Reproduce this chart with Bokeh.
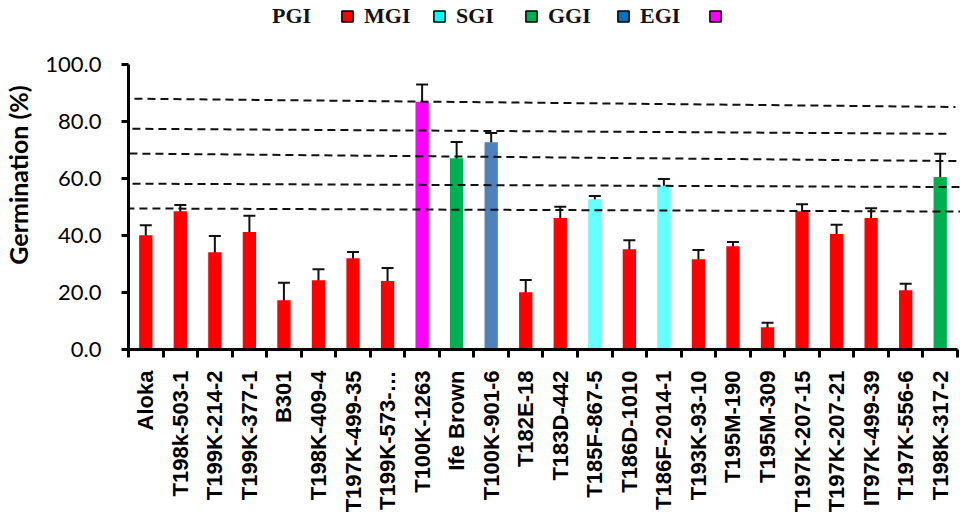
import math

from bokeh.core.properties import value
from bokeh.embed import file_html
from bokeh.models import (ColumnDataSource, FixedTicker, Legend, LegendItem,
                          PrintfTickFormatter, Range1d, TeeHead, Whisker)
from bokeh.plotting import figure
from bokeh.resources import INLINE

# ---- data -------------------------------------------------------------
varieties = [
    "Aloka", "T198k-503-1", "T199K-214-2", "T199K-377-1", "B301", "T198K-409-4",
    "T197K-499-35", "T199K-573-…", "T100K-1263", "Ife Brown", "T100K-901-6",
    "T182E-18", "T183D-442", "T185F-867-5", "T186D-1010", "T186F-2014-1",
    "T193K-93-10", "T195M-190", "T195M-309", "T197K-207-15", "T197K-207-21",
    "IT97K-499-39", "T197K-556-6", "T198K-317-2",
]
germination = [40.1, 48.5, 34.1, 41.2, 17.3, 24.3, 32.0, 24.0, 86.9, 67.1, 72.7, 20.1,
               46.1, 52.7, 35.2, 57.5, 31.7, 36.2, 7.8, 48.5, 40.5, 46.1, 20.8, 60.5]
germination_err = [3.5, 2.2, 5.7, 5.7, 6.1, 3.9, 2.2, 4.6, 6.1, 5.7, 3.3, 4.3,
                   4.0, 1.2, 3.1, 2.3, 3.2, 1.5, 1.6, 2.5, 3.3, 3.5, 2.3, 8.2]
gi_class = ["PGI", "PGI", "PGI", "PGI", "PGI", "PGI", "PGI", "PGI", "EGI", "SGI", "GGI", "PGI",
            "PGI", "MGI", "PGI", "MGI", "PGI", "PGI", "PGI", "PGI", "PGI", "PGI", "PGI", "SGI"]
class_colors = {"PGI": "#FF0000", "MGI": "#66FFFF", "SGI": "#00B050",
                "GGI": "#4F81BD", "EGI": "#FF00FF"}

# hand-drawn class boundary guides (x in category units, y in %)
guide_x0 = [-1.08, -1.14, -0.85, -0.76, -0.56]
guide_x1 = [23.44, 23.21, 23.59, 23.59, 23.59]
guide_y0 = [88.1, 77.5, 68.8, 58.2, 49.5]
guide_y1 = [85.1, 75.7, 66.1, 57.0, 48.4]

legend_labels = ["PGI", "MGI", "SGI", "GGI", "EGI", ""]
legend_colors = [None, "#FF0000", "#00FFFF", "#00B050", "#0070C0", "#FF00FF"]

y_ticks = [0, 20, 40, 60, 80, 100]

# ---- figure -----------------------------------------------------------
n = len(varieties)
centers = list(range(n))
boundaries = [i - 0.5 for i in range(n + 1)]

# the frame runs up to the top edge so the legend can sit inside it
p = figure(width=960, height=518, output_backend="svg", toolbar_location=None,
           x_range=Range1d(-0.5, n - 0.413), y_range=Range1d(0, 122.46),
           min_border_left=127, min_border_right=0, min_border_top=0,
           min_border_bottom=169)
p.outline_line_color = None
p.xgrid.visible = False
p.ygrid.visible = False
p.background_fill_color = "white"

src = ColumnDataSource(dict(
    x=centers,
    top=germination,
    lower=[v - e for v, e in zip(germination, germination_err)],
    upper=[v + e for v, e in zip(germination, germination_err)],
    color=[class_colors[c] for c in gi_class],
))

p.vbar(x="x", top="top", width=0.385, fill_color="color", line_color=None, source=src)

p.segment(x0=guide_x0, y0=guide_y0, x1=guide_x1, y1=guide_y1,
          line_color="#111111", line_width=2, line_dash="8 5")

err = Whisker(base="x", lower="lower", upper="upper", source=src,
              line_color="#111111", line_width=2,
              upper_head=TeeHead(size=12, line_color="#111111", line_width=2),
              lower_head=TeeHead(size=12, line_color="#111111", line_width=2))
p.add_layout(err)

# ---- axes -------------------------------------------------------------
yax = p.yaxis[0]
yax.bounds = (0, 100)
yax.ticker = FixedTicker(ticks=y_ticks, minor_ticks=[])
yax.formatter = PrintfTickFormatter(format="%.1f")
yax.axis_line_width = 3
yax.axis_line_color = "black"
yax.major_tick_line_width = 3
yax.major_tick_out = 7
yax.major_tick_in = 0
yax.minor_tick_line_color = None
yax.major_label_standoff = 20
yax.major_label_text_font = "Lato"
yax.major_label_text_font_size = "22px"
yax.major_label_text_color = "black"
yax.axis_label = "Germination (%)"
yax.axis_label_standoff = 9
yax.axis_label_text_font = "Lato"
yax.axis_label_text_font_style = "bold"
yax.axis_label_text_font_size = "25px"
yax.axis_label_text_color = "black"

xax = p.xaxis[0]
xax.bounds = (-0.5, n - 0.5)
xax.ticker = FixedTicker(ticks=centers, minor_ticks=boundaries)
xax.major_label_overrides = {i: name for i, name in enumerate(varieties)}
xax.axis_line_width = 3
xax.axis_line_color = "black"
xax.major_tick_line_color = None
xax.major_tick_out = 0
xax.major_tick_in = 0
xax.minor_tick_line_color = "black"
xax.minor_tick_line_width = 3
xax.minor_tick_out = 8
xax.minor_tick_in = 0
xax.major_label_orientation = math.pi / 2
xax.major_label_standoff = 13
xax.major_label_text_font = "Liberation Sans"
xax.major_label_text_font_style = "bold"
xax.major_label_text_font_size = "22px"
xax.major_label_text_color = "black"

# ---- legend -----------------------------------------------------------
# swatch proxies: one bar each, parked far outside the visible x range
items = []
for lab, col in zip(legend_labels, legend_colors):
    if col is None:
        r = p.vbar(x=[-100], top=[1], width=0.5, fill_alpha=0, line_alpha=0)
    else:
        r = p.vbar(x=[-100], top=[1], width=0.5, fill_color=col,
                   line_color="black", line_width=1.5)
    items.append(LegendItem(label=value(lab), renderers=[r]))

legend = Legend(items=items, orientation="horizontal", location=(120, 320),
                glyph_width=14, glyph_height=14, label_standoff=10, spacing=18,
                label_width=50, padding=0, margin=0,
                border_line_color=None, background_fill_alpha=0,
                label_text_font="Liberation Serif", label_text_font_style="bold",
                label_text_font_size="22px", label_text_color="#111111")
p.add_layout(legend)

open("out.html", "w").write(file_html(p, INLINE))
